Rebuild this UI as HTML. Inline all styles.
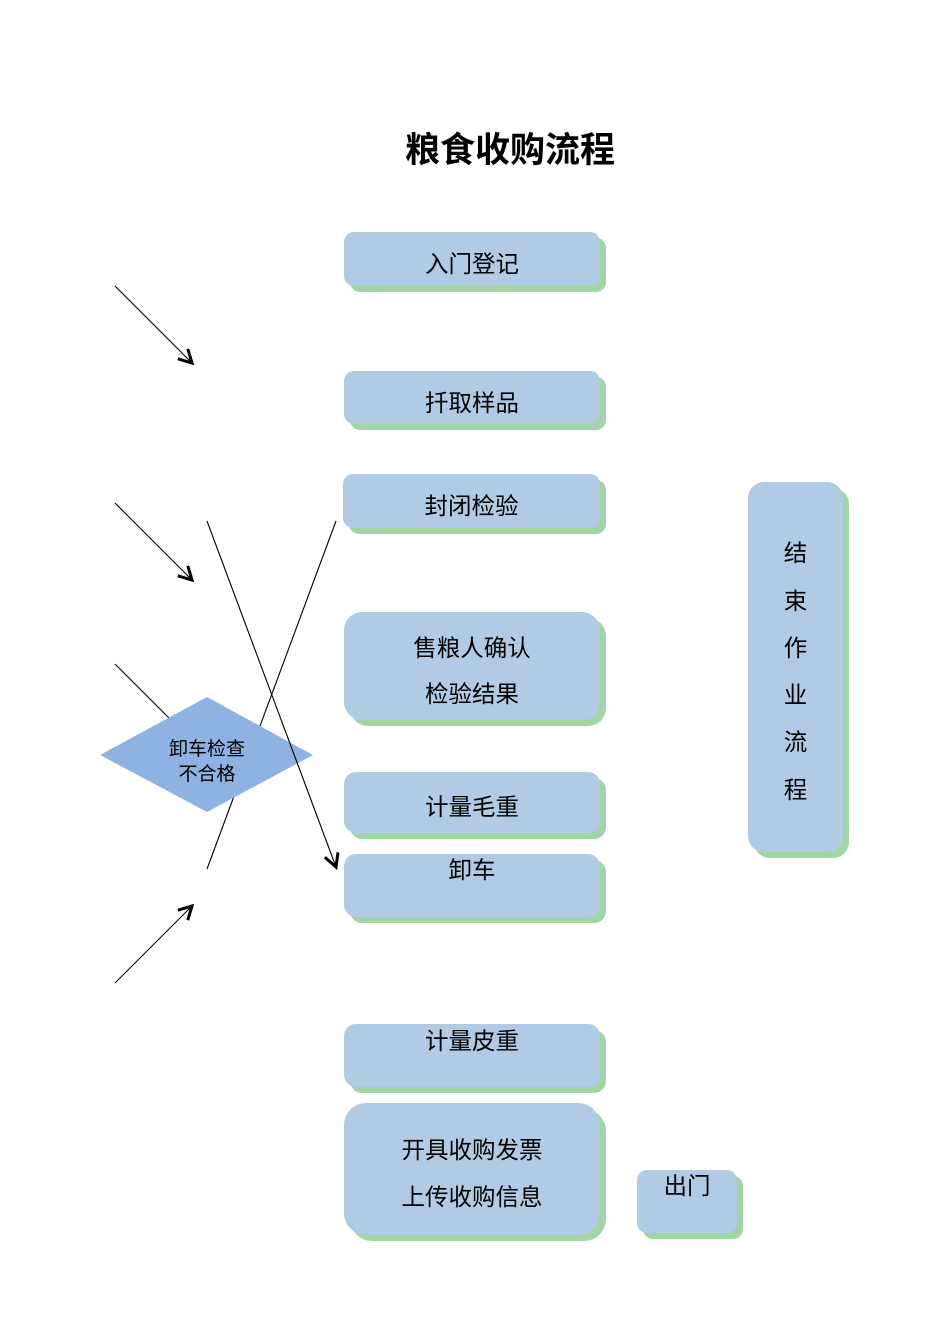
<!DOCTYPE html>
<html>
<head>
<meta charset="utf-8">
<style>
  html, body { margin:0; padding:0; background:#fff; }
  body { width:950px; height:1344px; position:relative; overflow:hidden;
         font-family:"Liberation Sans","Noto Sans CJK SC",sans-serif; color:#000; }
  .b { position:absolute; background:#B1CBE5; box-shadow:6px 6px 0 #A2D5A6; }
  .t { position:absolute; height:30px; line-height:30px; text-align:center; white-space:nowrap; font-size:23.5px; }
  svg { position:absolute; left:0; top:0; }
</style>
</head>
<body>

<div class="t" style="left:0;width:1020px;top:134px;height:34px;line-height:34px;font-size:35px;font-weight:bold;">粮食收购流程</div>

<svg width="950" height="1344" viewBox="0 0 950 1344">
  <defs>
    <marker id="ah" markerWidth="20" markerHeight="20" refX="14" refY="8" orient="auto" markerUnits="userSpaceOnUse">
      <path d="M1,1 L14,8 L1,15" fill="none" stroke="#000" stroke-width="3"/>
    </marker>
  </defs>
  <line x1="115" y1="286" x2="192" y2="363" stroke="#000" stroke-width="1.1" marker-end="url(#ah)"/>
  <line x1="115" y1="503" x2="192" y2="580" stroke="#000" stroke-width="1.1" marker-end="url(#ah)"/>
  <line x1="115" y1="983" x2="192" y2="906" stroke="#000" stroke-width="1.1" marker-end="url(#ah)"/>
  <line x1="115" y1="664" x2="190" y2="739" stroke="#000" stroke-width="1.1"/>
  <line x1="336" y1="521" x2="207" y2="869" stroke="#000" stroke-width="1.1"/>
  <polygon points="100,755 207,697 313,755 207,812" fill="#8EB3E2"/>
  <text x="207" y="755" text-anchor="middle" font-size="19" font-family="Liberation Sans, Noto Sans CJK SC, sans-serif">卸车检查</text>
  <text x="207" y="780" text-anchor="middle" font-size="19" font-family="Liberation Sans, Noto Sans CJK SC, sans-serif">不合格</text>
  <line x1="207" y1="521" x2="336" y2="867" stroke="#000" stroke-width="1.1" marker-end="url(#ah)"/>
</svg>

<div class="b" style="left:344px;top:232px;width:256px;height:54px;border-radius:10px;"></div>
<div class="t" style="left:344px;width:256px;top:249px;">入门登记</div>

<div class="b" style="left:344px;top:371px;width:256px;height:53px;border-radius:10px;"></div>
<div class="t" style="left:344px;width:256px;top:388px;">扦取样品</div>

<div class="b" style="left:343px;top:474px;width:257px;height:54px;border-radius:10px;"></div>
<div class="t" style="left:343px;width:257px;top:491px;">封闭检验</div>

<div class="b" style="left:344px;top:612px;width:256px;height:108px;border-radius:18px;"></div>
<div class="t" style="left:344px;width:256px;top:633px;">售粮人确认</div>
<div class="t" style="left:344px;width:256px;top:679px;">检验结果</div>

<div class="b" style="left:344px;top:772px;width:256px;height:61px;border-radius:12px;"></div>
<div class="t" style="left:344px;width:256px;top:792px;">计量毛重</div>

<div class="b" style="left:344px;top:854px;width:256px;height:63px;border-radius:12px;"></div>
<div class="t" style="left:344px;width:256px;top:855px;">卸车</div>

<div class="b" style="left:344px;top:1024px;width:256px;height:63px;border-radius:12px;"></div>
<div class="t" style="left:344px;width:256px;top:1026px;">计量皮重</div>

<div class="b" style="left:344px;top:1103px;width:256px;height:132px;border-radius:22px;"></div>
<div class="t" style="left:344px;width:256px;top:1135px;">开具收购发票</div>
<div class="t" style="left:344px;width:256px;top:1182px;">上传收购信息</div>

<div class="b" style="left:637px;top:1170px;width:100px;height:63px;border-radius:10px;"></div>
<div class="t" style="left:637px;width:100px;top:1171px;">出门</div>

<div class="b" style="left:748px;top:482px;width:95px;height:370px;border-radius:16px;"></div>
<div class="t" style="left:748px;width:95px;top:538px;">结</div>
<div class="t" style="left:748px;width:95px;top:586px;">束</div>
<div class="t" style="left:748px;width:95px;top:633px;">作</div>
<div class="t" style="left:748px;width:95px;top:680px;">业</div>
<div class="t" style="left:748px;width:95px;top:727px;">流</div>
<div class="t" style="left:748px;width:95px;top:775px;">程</div>

</body>
</html>
